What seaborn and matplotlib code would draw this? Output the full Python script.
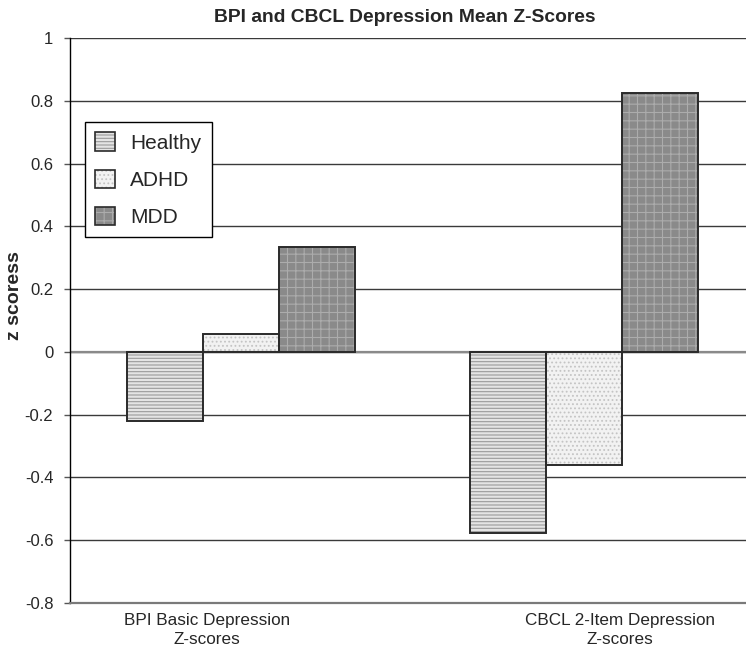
import matplotlib
matplotlib.use("Agg")
import matplotlib.pyplot as plt
import matplotlib.patches as mpatches
from matplotlib.transforms import ScaledTranslation
import seaborn as sns
import pandas as pd

categories = ["BPI Basic Depression\nZ-scores", "CBCL 2-Item Depression\nZ-scores"]
groups = ["Healthy", "ADHD", "MDD"]
healthy = [-0.22, -0.576]
adhd = [0.056, -0.361]
mdd = [0.333, 0.825]
yticks = [-0.8, -0.6, -0.4, -0.2, 0, 0.2, 0.4, 0.6, 0.8, 1]
ytick_labels = ["-0.8", "-0.6", "-0.4", "-0.2", "0", "0.2", "0.4", "0.6", "0.8", "1"]

rows = []
for g, vals in zip(groups, [healthy, adhd, mdd]):
    for c, v in zip(categories, vals):
        rows.append({"category": c, "group": g, "z": v})
df = pd.DataFrame(rows)

face = {"Healthy": "#e4e4e4", "ADHD": "#f2f2f2", "MDD": "#8a8a8a"}
hatchcol = {"Healthy": "#9a9a9a", "ADHD": "#c4c4c4", "MDD": "#acacac"}
hatches = {"Healthy": "-----", "ADHD": "....", "MDD": "++"}
outline = "#2a2a2a"

sns.set_style("white")
plt.rcParams["font.family"] = ["Liberation Sans", "DejaVu Sans"]
plt.rcParams["hatch.linewidth"] = 0.8

fig = plt.figure(figsize=(7.46, 6.48), dpi=100)
ax = fig.add_axes([70 / 746, (648 - 603) / 648, 685 / 746, 565 / 648])

sns.barplot(data=df, x="category", y="z", hue="group", hue_order=groups,
            order=categories, palette=face, width=0.667, legend=False,
            saturation=1, ax=ax)

for cont, g in zip(ax.containers, groups):
    for p in cont.patches:
        p.set_hatch(hatches[g])
        p.set_edgecolor(hatchcol[g])
        p.set_linewidth(0)
        ax.add_patch(mpatches.Rectangle(p.get_xy(), p.get_width(), p.get_height(),
                                        fill=False, edgecolor=outline, lw=1.4, zorder=3))

ax.set_xlim(-0.5, 1.5)
ax.set_ylim(-0.8, 1.0)
ax.set_yticks(yticks)
ax.set_yticklabels(ytick_labels)
ax.yaxis.grid(True, color="#3a3a3a", lw=1.0)
ax.set_axisbelow(True)
ax.axhline(0, color="#8a8a8a", lw=1.6, zorder=1.5)

for s in ["top", "right"]:
    ax.spines[s].set_visible(False)
ax.spines["left"].set_color("black")
ax.spines["left"].set_linewidth(1.0)
ax.spines["bottom"].set_color("#7a7a7a")
ax.spines["bottom"].set_linewidth(1.6)

ax.tick_params(axis="y", which="major", direction="out", length=4, width=1,
               color="#555555", labelsize=12, pad=8, left=True)
ax.tick_params(axis="x", length=0, labelsize=12.3, pad=7)
label_shift_px = [-34, 36]
for lab, dx in zip(ax.get_xticklabels(), label_shift_px):
    lab.set_linespacing(1.38)
    lab.set_transform(lab.get_transform() + ScaledTranslation(dx / 100, 0, fig.dpi_scale_trans))

ax.set_xlabel("")
ax.set_ylabel("z scoress", fontsize=14, fontweight="bold")
ax.yaxis.set_label_coords(-0.068, 0.545)

fig.text(405 / 746, 1 - 17 / 648, "BPI and CBCL Depression Mean Z-Scores",
         ha="center", va="center", fontsize=13.9, fontweight="bold")

handles = []
for g in groups:
    h1 = mpatches.Patch(facecolor=face[g], edgecolor=hatchcol[g], hatch=hatches[g], lw=0)
    h2 = mpatches.Patch(facecolor="none", edgecolor=outline, lw=1.2)
    handles.append((h1, h2))
leg = ax.legend(handles, groups, loc="upper left", bbox_to_anchor=(0.0219, 0.8513),
                borderaxespad=0, fontsize=15, frameon=True, fancybox=False,
                framealpha=1, edgecolor="black", handlelength=0.96, handleheight=0.96,
                handletextpad=0.72, labelspacing=0.81, borderpad=0.5)
leg.get_frame().set_linewidth(1.0)

fig.savefig("out.png", dpi=100)
